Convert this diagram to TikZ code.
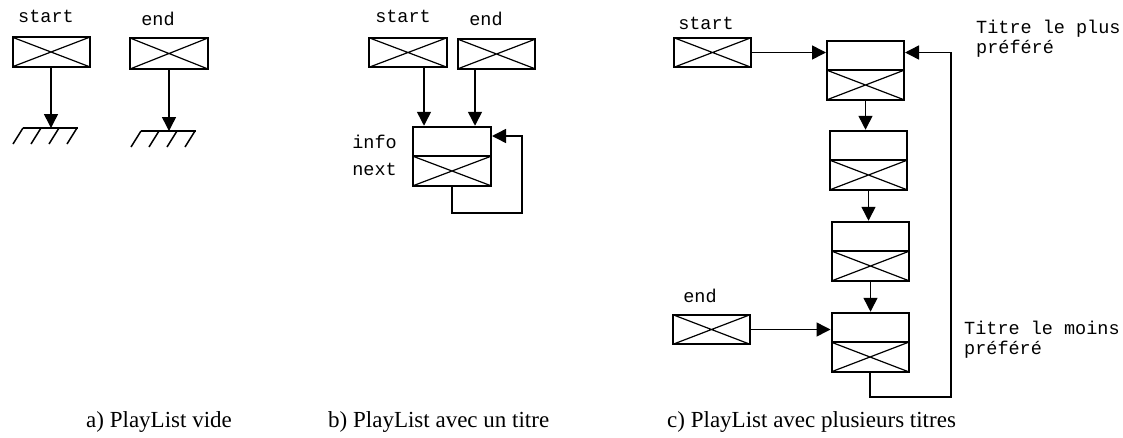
\documentclass[tikz,border=0pt]{standalone}
\usepackage{fontspec}
\setmainfont{Liberation Serif}
\newfontfamily\cour{Liberation Mono}
\usetikzlibrary{arrows.meta,positioning,calc}

\tikzset{
  box/.style={draw, line width=2pt, minimum width=77pt, minimum height=29.5pt, inner sep=0pt},
  xbox/.style={box, path picture={
      \draw[line width=1.2pt]
        (path picture bounding box.north west) -- (path picture bounding box.south east)
        (path picture bounding box.south west) -- (path picture bounding box.north east);}},
  arr/.style={line width=1.5pt, -{Triangle[length=14pt,width=14pt]}},
  lbl/.style={font=\cour\fontsize{18.5}{20}\selectfont, inner sep=0pt, anchor=base},
  side/.style={lbl, anchor=base west},
  captxt/.style={font=\fontsize{23}{26}\selectfont, inner sep=0pt, anchor=base west},
  gnd/.style={line width=1.5pt},
  % the "next" field sits right under its "info" field, sharing one border
  under/.style={below=-2pt of #1}
}

% ground symbol hanging under a coordinate
\newcommand{\groundsym}[1]{%
  \draw[gnd] ($(#1)+(-28,0)$) -- ($(#1)+(27,0)$);
  \foreach \i in {0,1,2,3}
    \draw[gnd] ($(#1)+(-28+18*\i,0)$) -- ++(-10,16);
}

\begin{document}
\begin{tikzpicture}[x=1pt,y=-1pt]
\useasboundingbox (0,0) rectangle (1123,437);

% ---------- a) empty list ----------
\node[lbl] (saL) at (46,22) {start};
\node[lbl] (eaL) at (158,25) {end};
\node[xbox] (sa) at (51,52) {};
\node[xbox, minimum width=78pt, minimum height=31pt] (ea) at (169,53.5) {};
\coordinate (gA) at (51,128);
\coordinate (gB) at (169,131);
\draw[arr] (sa.south) -- (gA);
\draw[arr] (ea.south) -- (gB);
\groundsym{gA}
\groundsym{gB}

% ---------- b) list with one title ----------
\node[lbl] (sbL) at (403,22) {start};
\node[lbl] (ebL) at (486,25) {end};
\node[xbox, minimum width=78pt] (sb) at (408,52.5) {};
\node[xbox] (eb) at (496.5,54) {};
\node[box, minimum width=78pt] (bi) at (452,141.5) {};
\node[xbox, minimum width=78pt, under=bi] (bn) {};
\node[lbl, anchor=base east] (biL) at (397,148) {info};
\node[lbl, anchor=base east] (bnL) at (397,175) {next};
\draw[arr] ([xshift=-28pt]bi.north |- sb.south) -- ([xshift=-28pt]bi.north);
\draw[arr] ([xshift=23pt]bi.north |- eb.south) -- ([xshift=23pt]bi.north);
\draw[arr] (bn.south) |- ++(70,26) |- ([yshift=5.5pt]bi.east);

% ---------- c) list with several titles ----------
\node[lbl] (scL) at (706,29) {start};
\node[lbl] (ecL) at (700,302) {end};
\node[xbox] (sc) at (712.5,52.5) {};
\node[xbox] (ec) at (711.5,329.5) {};

\node[box] (c1i) at (865.5,55.5) {};
\node[xbox, under=c1i] (c1n) {};
\node[box] (c2i) at (868.5,145.5) {};
\node[xbox, under=c2i] (c2n) {};
\node[box] (c3i) at (870.5,236.5) {};
\node[xbox, under=c3i] (c3n) {};
\node[box] (c4i) at (870,327.5) {};
\node[xbox, under=c4i] (c4n) {};

\draw[arr] (sc.east) -- (sc.east -| c1i.west);
\draw[arr] (ec.east) -- (ec.east -| c4i.west);
\draw[arr] (c1n.south) -- (c1n.south |- c2i.north);
\draw[arr] (c2n.south) -- (c2n.south |- c3i.north);
\draw[arr] (c3n.south) -- (c3n.south |- c4i.north);
\draw[arr] (c4n.south) |- ++(81,24) |- (sc.east -| c1i.east);

\node[side] (tp1) at (976,33) {Titre le plus};
\node[side] (tp2) at (976,53) {préféré};
\node[side] (tm1) at (964,334) {Titre le moins};
\node[side] (tm2) at (964,354) {préféré};

% ---------- captions ----------
\node[captxt] (capA) at (86,427) {a) PlayList vide};
\node[captxt] (capB) at (328,427) {b) PlayList avec un titre};
\node[captxt] (capC) at (667,427) {c) PlayList avec plusieurs titres};
\end{tikzpicture}
\end{document}
